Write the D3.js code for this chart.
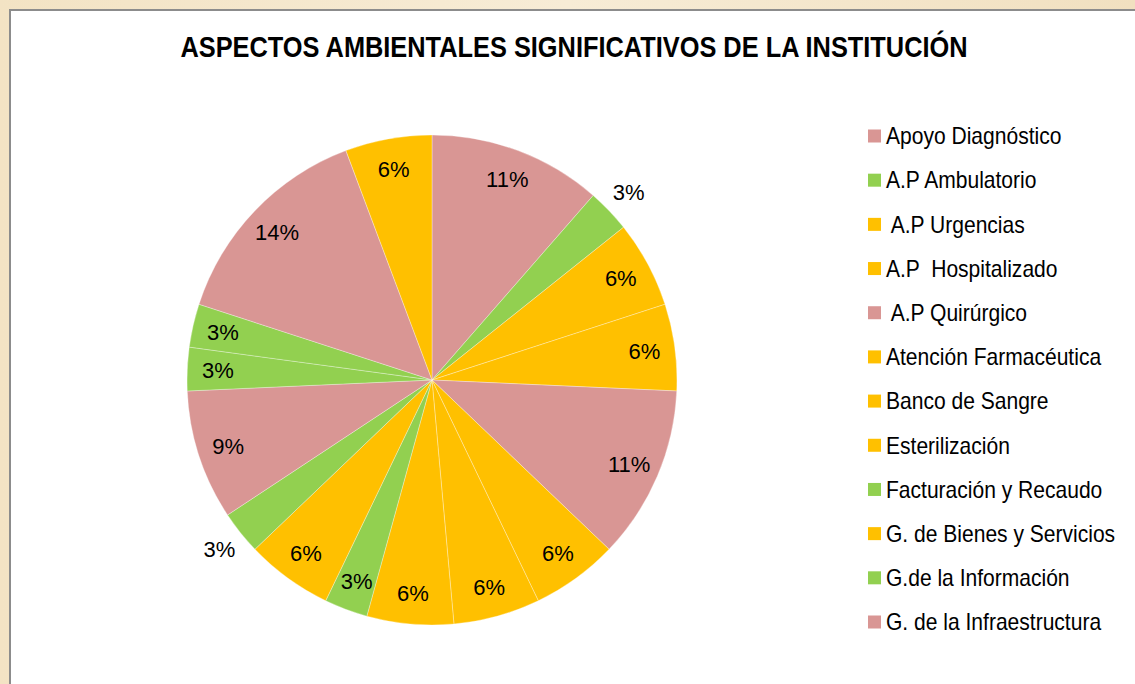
<!DOCTYPE html>
<html>
<head>
<meta charset="utf-8">
<script src="https://cdn.jsdelivr.net/npm/d3@7"></script>
<style>
  body { margin: 0; background: #f4e6cb; }
  svg { display: block; }
  .sans { font-family: "Liberation Sans", Arial, sans-serif; }
  .legend text { white-space: pre; }
</style>
</head>
<body>
<div id="chart"></div>
<script>
// slices clockwise from 12 o'clock (counts, total 35)
var categories = ["Apoyo Diagnóstico", "A.P Ambulatorio", " A.P Urgencias", "A.P  Hospitalizado",
  " A.P Quirúrgico", "Atención Farmacéutica", "Banco de Sangre", "Esterilización",
  "Facturación y Recaudo", "G. de Bienes y Servicios", "G.de la Información", "G. de la Infraestructura",
  "Otro 1", "Otro 2", "Otro 3", "Otro 4"];
var values = [4, 1, 2, 2, 4, 2, 2, 2, 1, 2, 1, 3, 1, 1, 5, 2];
var groups = ["rosa", "verde", "amarillo", "amarillo", "rosa", "amarillo", "amarillo", "amarillo",
  "verde", "amarillo", "verde", "rosa", "verde", "verde", "rosa", "amarillo"];
var legendCount = 12;      // the legend only lists the first 12
var outsideLabels = [1, 10]; // labels Excel put outside the pie

var title = "ASPECTOS AMBIENTALES SIGNIFICATIVOS DE LA INSTITUCIÓN";

var width = 1135, height = 684;
var cx = 432, cy = 380, radius = 245;

// the original uses Arial Narrow; squeeze regular sans to get close
var squeezeTitle = 0.846;
var squeezeLegend = 0.915;

var svg = d3.select("#chart").append("svg")
    .attr("width", width)
    .attr("height", height);

// parchment background
var defs = svg.append("defs");
var grad = defs.append("linearGradient").attr("id", "bg").attr("x1", 0).attr("x2", 1).attr("y1", 0).attr("y2", 0);
grad.append("stop").attr("offset", "0%").attr("stop-color", "#f3e3c4");
grad.append("stop").attr("offset", "50%").attr("stop-color", "#f7ecd6");
grad.append("stop").attr("offset", "100%").attr("stop-color", "#f1e0c0");
svg.append("rect").attr("width", width).attr("height", height).attr("fill", "url(#bg)");

// chart area
svg.append("rect")
    .attr("x", 10).attr("y", 10)
    .attr("width", width).attr("height", height)
    .attr("fill", "#ffffff")
    .attr("stroke", "#8c8c8c")
    .attr("stroke-width", 2);

svg.append("text")
    .attr("class", "sans")
    .attr("transform", "translate(574,57) scale(" + squeezeTitle + ",1)")
    .attr("text-anchor", "middle")
    .attr("font-size", 30)
    .attr("font-weight", "bold")
    .attr("fill", "#000")
    .text(title);

var data = categories.map(function(c, i) {
  return {name: c, value: values[i], group: groups[i], index: i};
});
var total = d3.sum(values);

var color = d3.scaleOrdinal()
    .domain(["rosa", "verde", "amarillo"])
    .range(["#d99694", "#92d050", "#ffc000"]);

var pie = d3.pie().sort(null).value(function(d) { return d.value; });
var arcs = pie(data);

var arc = d3.arc().innerRadius(0).outerRadius(radius);
var labelIn = d3.arc().innerRadius(radius * 0.875).outerRadius(radius * 0.875);
var labelOut = d3.arc().innerRadius(radius * 1.11).outerRadius(radius * 1.11);

var g = svg.append("g").attr("transform", "translate(" + cx + "," + cy + ")");

g.selectAll("path")
    .data(arcs)
    .enter().append("path")
    .attr("d", arc)
    .attr("fill", function(d) { return color(d.data.group); })
    .attr("stroke", "#ffffff")
    .attr("stroke-opacity", 0.45)
    .attr("stroke-width", 0.7);

g.selectAll("text.pct")
    .data(arcs)
    .enter().append("text")
    .attr("class", "pct sans")
    .attr("transform", function(d) {
      var a = outsideLabels.indexOf(d.data.index) >= 0 ? labelOut : labelIn;
      return "translate(" + a.centroid(d) + ")";
    })
    .attr("text-anchor", "middle")
    .attr("dy", "0.36em")
    .attr("font-size", 22)
    .attr("fill", "#000")
    .text(function(d) { return Math.round(d.data.value / total * 100) + "%"; });

// legend
var legendY = d3.scalePoint()
    .domain(d3.range(legendCount))
    .range([136, 622]);

var legend = svg.append("g").attr("class", "legend");
var items = legend.selectAll("g")
    .data(data.slice(0, legendCount))
    .enter().append("g")
    .attr("transform", function(d, i) { return "translate(868," + legendY(i) + ")"; });

items.append("rect")
    .attr("x", 0).attr("y", -6.5)
    .attr("width", 13).attr("height", 13)
    .attr("fill", function(d) { return color(d.group); });

items.append("text")
    .attr("class", "sans")
    .attr("transform", "translate(18,0) scale(" + squeezeLegend + ",1)")
    .attr("dy", "0.36em")
    .attr("font-size", 23)
    .attr("fill", "#000")
    .text(function(d) { return d.name; });
</script>
</body>
</html>
